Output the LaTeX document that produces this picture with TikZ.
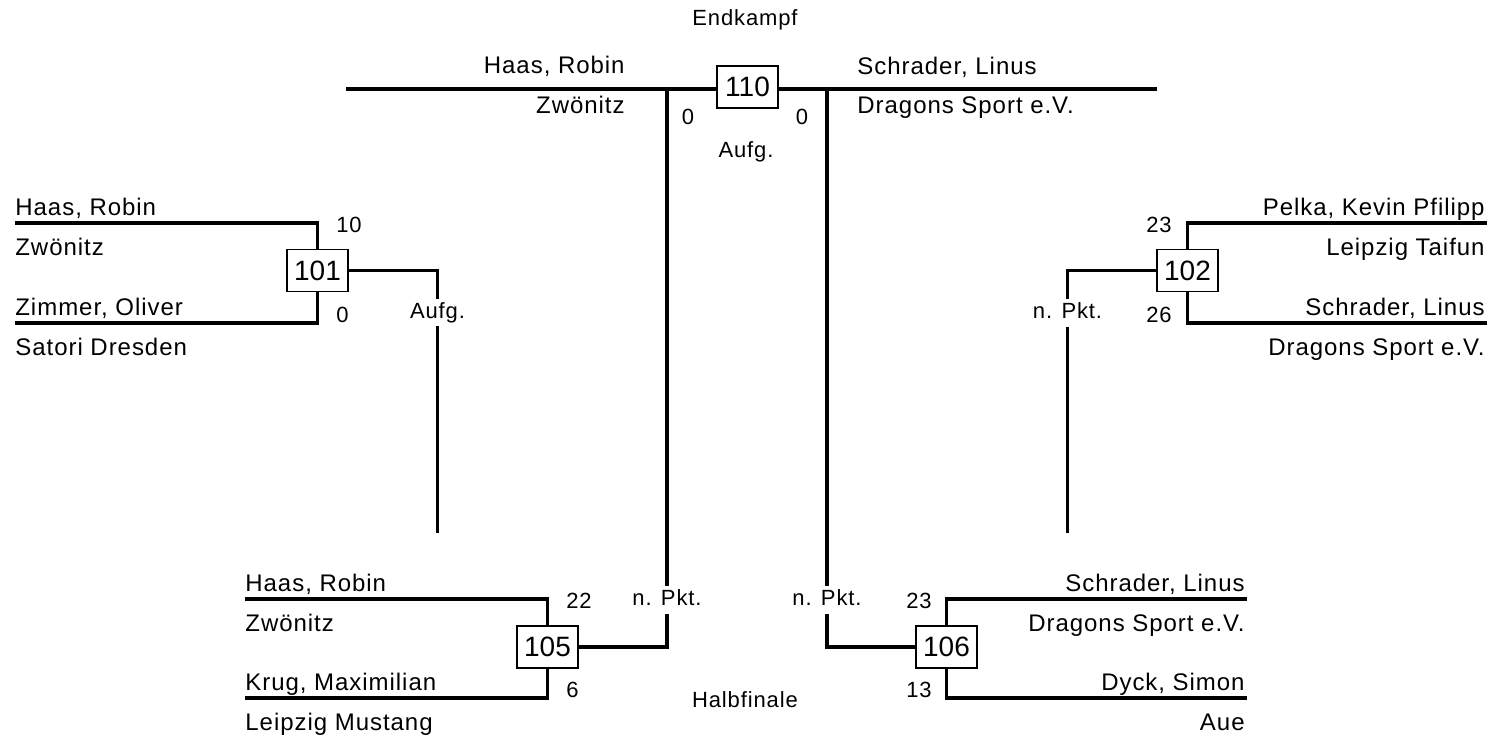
\documentclass[tikz,border=0pt]{standalone}
\usepackage{fontspec}
\setmainfont{Liberation Sans}[LetterSpace=4]
\newfontfamily\kampffont{Liberation Sans}
\tikzset{   linie/.style = {line width=1.6pt},
            kampf/.style = {draw, fill=white, line width=0.6pt, rectangle, minimum width=30.5pt, minimum height=21pt, inner sep=0pt, font=\kampffont\fontsize{14}{16}\selectfont},
            spieler/.style = {inner sep=0pt, font=\fontsize{12}{14}\selectfont},
            punkte/.style = {inner sep=0pt, font=\fontsize{11}{13}\selectfont},
            wertung/.style = {inner xsep=2pt, inner ysep=1.5pt, text height=8pt, text depth=2.3pt, font=\fontsize{11}{13}\selectfont}}

\begin{document}
\begin{tikzpicture}[x=0.5pt, y=-0.5pt]
    \useasboundingbox (0,0) rectangle (1494,738);
    \node[punkte](endkampf)at(745,20){Endkampf};
    \node[punkte](halbfinale)at(745,700){Halbfinale};

    % Kampf 101
    \node[kampf](k101)at(317.5,270.5){101};
    \coordinate(a101)at(15,223);
    \coordinate(b101)at(15,323);
    \draw[linie](a101)-|(k101);
    \draw[linie](b101)-|(k101);
    \node[spieler, anchor=base west](n101a)at(15,215){Haas, Robin};
    \node[spieler, anchor=base west](v101a)at(15,255){Zwönitz};
    \node[spieler, anchor=base west](n101b)at(15,315){Zimmer, Oliver};
    \node[spieler, anchor=base west](v101b)at(15,355){Satori Dresden};
    \node[punkte, anchor=west](s101a)at(336,225){10};
    \node[punkte, anchor=west](s101b)at(336,314.5){0};
    \node[wertung](w101)at(437.5,312.5){Aufg.};
    \coordinate(e101)at(437.5,533);
    \draw[linie](k101)-|(w101.north);
    \draw[linie](w101.south)--(e101);

    % Kampf 102
    \node[kampf](k102)at(1187.5,270.5){102};
    \coordinate(a102)at(1487,223);
    \coordinate(b102)at(1487,323);
    \draw[linie](a102)-|(k102);
    \draw[linie](b102)-|(k102);
    \node[spieler, anchor=base east](n102a)at(1485,215){Pelka, Kevin Pfilipp};
    \node[spieler, anchor=base east](v102a)at(1485,255){Leipzig Taifun};
    \node[spieler, anchor=base east](n102b)at(1485,315){Schrader, Linus};
    \node[spieler, anchor=base east](v102b)at(1485,355){Dragons Sport e.V.};
    \node[punkte, anchor=east](s102a)at(1172,225){23};
    \node[punkte, anchor=east](s102b)at(1172,315){26};
    \node[wertung](w102)at(1067.5,313){n. Pkt.};
    \coordinate(e102)at(1067.5,533);
    \draw[linie](k102)-|(w102.north);
    \draw[linie](w102.south)--(e102);

    % Kampf 105
    \node[kampf](k105)at(547.5,647){105};
    \coordinate(a105)at(245,599);
    \coordinate(b105)at(245,698);
    \draw[linie](a105)-|(k105);
    \draw[linie](b105)-|(k105);
    \node[spieler, anchor=base west](n105a)at(245,591){Haas, Robin};
    \node[spieler, anchor=base west](v105a)at(245,631){Zwönitz};
    \node[spieler, anchor=base west](n105b)at(245,690){Krug, Maximilian};
    \node[spieler, anchor=base west](v105b)at(245,730){Leipzig Mustang};
    \node[punkte, anchor=west](s105a)at(566,601){22};
    \node[punkte, anchor=west](s105b)at(566,690){6};

    % Kampf 106
    \node[kampf](k106)at(946.5,647){106};
    \coordinate(a106)at(1247,599);
    \coordinate(b106)at(1247,698);
    \draw[linie](a106)-|(k106);
    \draw[linie](b106)-|(k106);
    \node[spieler, anchor=base east](n106a)at(1245,591){Schrader, Linus};
    \node[spieler, anchor=base east](v106a)at(1245,631){Dragons Sport e.V.};
    \node[spieler, anchor=base east](n106b)at(1245,690){Dyck, Simon};
    \node[spieler, anchor=base east](v106b)at(1245,730){Aue};
    \node[punkte, anchor=east](s106a)at(932,601){23};
    \node[punkte, anchor=east](s106b)at(932,690){13};

    % Endkampf 110
    \node[kampf](k110)at(747.5,87){110};
    \coordinate(f1)at(346,89);
    \coordinate(f2)at(1157,89);
    \draw[linie](f1)--(f1-|k110.west);
    \draw[linie](k110.east|-f2)--(f2);
    \node[spieler, anchor=base east](n110a)at(625,74){Haas, Robin};
    \node[spieler, anchor=base east](v110a)at(625,113){Zwönitz};
    \node[spieler, anchor=base west](n110b)at(857,75){Schrader, Linus};
    \node[spieler, anchor=base west](v110b)at(857,113){Dragons Sport e.V.};
    \node[punkte](s110a)at(688,117){0};
    \node[punkte](s110b)at(802,117){0};
    \node[punkte](w110)at(746,152){Aufg.};
    \node[wertung](w105)at(667,600){n. Pkt.};
    \node[wertung](w106)at(827,600){n. Pkt.};
    \coordinate(v1)at(667,89);
    \coordinate(v2)at(827,89);
    \draw[linie](v1)--(w105.north);
    \draw[linie](w105.south)|-(k105);
    \draw[linie](v2)--(w106.north);
    \draw[linie](w106.south)|-(k106);
\end{tikzpicture}
\end{document}
